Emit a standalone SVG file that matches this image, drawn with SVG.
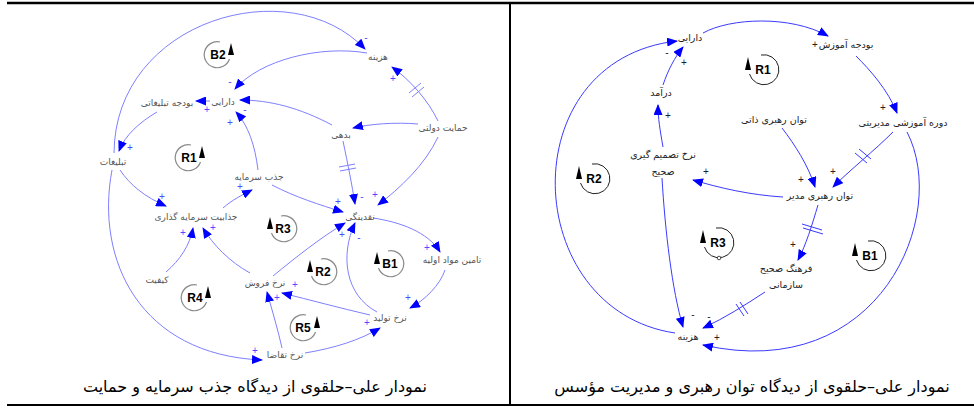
<svg xmlns="http://www.w3.org/2000/svg" width="974" height="408" viewBox="0 0 974 408">
<style>
.frame{stroke:#000;fill:none}
.ll{fill:none;stroke:#7f7fff;stroke-width:1}
.rl{fill:none;stroke:#3a3aff;stroke-width:1}
.hl{fill:none;stroke:#7f7fff;stroke-width:1}
.hr{fill:none;stroke:#3a3aff;stroke-width:1}
.lt{font-family:"DejaVu Sans",sans-serif;font-size:9px;fill:#555;text-anchor:middle}
.rt{font-family:"DejaVu Sans",sans-serif;font-size:9.5px;fill:#222;text-anchor:middle}
.pl{font-family:"Liberation Sans",sans-serif;font-size:10px;fill:#4d4dff;text-anchor:middle}
.pr{font-family:"Liberation Sans",sans-serif;font-size:10px;fill:#222;text-anchor:middle}
.lp{font-family:"Liberation Sans",sans-serif;font-size:12px;font-weight:bold;fill:#000;text-anchor:middle}
.cap{font-family:"DejaVu Sans",sans-serif;font-size:16px;fill:#000;text-anchor:middle}
</style>
<defs>
<marker id="ah" markerUnits="userSpaceOnUse" markerWidth="11" markerHeight="9" viewBox="0 0 11 9" refX="10" refY="4.5" orient="auto">
<path d="M0,0 L11,4.5 L0,9 Z" fill="#0000ff"/>
</marker>
<g id="loopA">
<path d="M3,-13 A13,13 0 1 0 12.5,4" fill="none" stroke="#8a8a8a" stroke-width="1.2"/>
<path d="M14,-12 L11,0 L17,0 Z" fill="#000"/>
</g>
<g id="loopB">
<path d="M3,-15 A15,15 0 1 0 14.5,4" fill="none" stroke="#222" stroke-width="1"/>
<path d="M16,-13 L13,0 L19,0 Z" fill="#000"/>
</g>
</defs>

<g id="frame">
<line class="frame" x1="7" y1="3" x2="974" y2="3" stroke-width="2.5"/>
<line class="frame" x1="510" y1="3" x2="510" y2="405" stroke-width="2"/>
<line class="frame" x1="7" y1="405" x2="974" y2="405" stroke-width="2"/>
</g>

<!-- LEFT DIAGRAM -->
<g id="left-connectors">
<path class="ll" d="M114,153 C115,20 290,-30 365,49" marker-end="url(#ah)"/>
<path class="ll" d="M367,53 C320,45 260,60 235,89" marker-end="url(#ah)"/>
<path class="ll" d="M332,125 C300,108 270,100 240,100" marker-end="url(#ah)"/>
<path class="ll" d="M258,170 C255,145 248,125 236,112" marker-end="url(#ah)"/>
<path class="ll" d="M210,101 L196,101" marker-end="url(#ah)"/>
<path class="ll" d="M157,112 C140,122 125,135 119,151" marker-end="url(#ah)"/>
<path class="ll" d="M120,170 C130,185 145,197 166,206" marker-end="url(#ah)"/>
<path class="ll" d="M112,170 C95,260 140,355 262,360" marker-end="url(#ah)"/>
<path class="ll" d="M223,208 C232,200 242,195 252,190" marker-end="url(#ah)"/>
<path class="ll" d="M166,272 C180,260 190,245 193,228" marker-end="url(#ah)"/>
<path class="ll" d="M250,273 C230,262 213,245 203,228" marker-end="url(#ah)"/>
<path class="ll" d="M272,185 C295,197 320,205 343,212" marker-end="url(#ah)"/>
<path class="ll" d="M343,141 C348,165 352,185 355,204" marker-end="url(#ah)"/>
<path class="ll" d="M438,137 C425,165 400,188 378,205" marker-end="url(#ah)"/>
<path class="ll" d="M418,124 C395,122 370,124 353,128" marker-end="url(#ah)"/>
<path class="ll" d="M438,121 C428,100 410,80 392,67" marker-end="url(#ah)"/>
<path class="ll" d="M373,218 C400,222 428,232 440,252" marker-end="url(#ah)"/>
<path class="ll" d="M445,270 C440,285 425,300 410,308" marker-end="url(#ah)"/>
<path class="ll" d="M377,312 C345,295 340,255 355,223" marker-end="url(#ah)"/>
<path class="ll" d="M273,276 C295,258 320,238 345,223" marker-end="url(#ah)"/>
<path class="ll" d="M370,315 C340,308 310,300 282,293" marker-end="url(#ah)"/>
<path class="ll" d="M282,348 C278,330 272,310 267,292" marker-end="url(#ah)"/>
<path class="ll" d="M305,353 C335,348 360,340 380,328" marker-end="url(#ah)"/>
<!-- delay hatches -->
<path class="hl" d="M339,167 L355,164 M340,171 L356,168"/>
<path class="hl" d="M409,93 L421,83 M412,97 L424,87"/>
</g>

<g id="left-polarity">
<text class="pl" x="366" y="41">-</text>
<text class="pl" x="393" y="82">+</text>
<text class="pl" x="230" y="85">-</text>
<text class="pl" x="245" y="113">-</text>
<text class="pl" x="230" y="126">+</text>
<text class="pl" x="207" y="113">+</text>
<text class="pl" x="130" y="151">+</text>
<text class="pl" x="162" y="200">+</text>
<text class="pl" x="255" y="354">+</text>
<text class="pl" x="240" y="190">+</text>
<text class="pl" x="183" y="236">+</text>
<text class="pl" x="213" y="231">+</text>
<text class="pl" x="338" y="205">+</text>
<text class="pl" x="362" y="200">-</text>
<text class="pl" x="375" y="198">+</text>
<text class="pl" x="427" y="251">+</text>
<text class="pl" x="408" y="301">+</text>
<text class="pl" x="359" y="241">-</text>
<text class="pl" x="342" y="238">+</text>
<text class="pl" x="295" y="288">+</text>
<text class="pl" x="277" y="301">+</text>
<text class="pl" x="367" y="326">+</text>
</g>

<g id="n-hazine-l"><text class="lt" x="378" y="60">هزینه</text></g>
<g id="n-hemayat"><text class="lt" x="443" y="131">حمایت دولتی</text></g>
<g id="n-bedehi"><text class="lt" x="341" y="138">بدهی</text></g>
<g id="n-darayi-l"><text class="lt" x="223" y="105">دارایی</text></g>
<g id="n-budjeh-tab"><text class="lt" x="167" y="106">بودجه تبلیغاتی</text></g>
<g id="n-tablighat"><text class="lt" x="113" y="165">تبلیغات</text></g>
<g id="n-jazb"><text class="lt" x="259" y="180">جذب سرمایه</text></g>
<g id="n-jazabiyat"><text class="lt" x="196" y="220">جذابیت سرمایه گذاری</text></g>
<g id="n-naghdinegi"><text class="lt" x="360" y="220">نقدینگی</text></g>
<g id="n-tamin"><text class="lt" x="452" y="263">تامین مواد اولیه</text></g>
<g id="n-keyfiyat"><text class="lt" x="157" y="283">کیفیت</text></g>
<g id="n-forush"><text class="lt" x="265" y="286">نرخ فروش</text></g>
<g id="n-tolid"><text class="lt" x="390" y="321">نرخ تولید</text></g>
<g id="n-taghaza"><text class="lt" x="285" y="358">نرخ تقاضا</text></g>

<g id="left-loops">
<g id="loop-B2"><use href="#loopA" x="217" y="55"/><text class="lp" x="218" y="59">B2</text></g>
<g id="loop-R1"><use href="#loopA" x="188" y="158"/><text class="lp" x="189" y="162">R1</text></g>
<g id="loop-R4"><use href="#loopA" x="194" y="298"/><text class="lp" x="195" y="302">R4</text></g>
<g id="loop-R5"><use href="#loopA" x="303" y="328"/><text class="lp" x="303" y="332">R5</text></g>
<g id="loop-R3"><use href="#loopA" transform="translate(284,229) scale(-1,1)"/><text class="lp" x="283" y="233">R3</text></g>
<g id="loop-R2"><use href="#loopA" transform="translate(324,272) scale(-1,1)"/><text class="lp" x="323" y="276">R2</text></g>
<g id="loop-B1l"><use href="#loopA" transform="translate(391,264) scale(-1,1)"/><text class="lp" x="390" y="268">B1</text></g>
</g>

<!-- RIGHT DIAGRAM -->
<g id="right-connectors">
<path class="rl" d="M907,132 C950,215 880,385 703,345" marker-end="url(#ah)"/>
<path class="rl" d="M675,333 C520,310 510,60 677,41" marker-end="url(#ah)"/>
<path class="rl" d="M703,33 C730,18 790,15 828,36" marker-end="url(#ah)"/>
<path class="rl" d="M856,56 C870,70 888,90 897,113" marker-end="url(#ah)"/>
<path class="rl" d="M893,132 C875,150 850,170 833,187" marker-end="url(#ah)"/>
<path class="rl" d="M782,128 C795,145 808,165 815,187" marker-end="url(#ah)"/>
<path class="rl" d="M783,197 C750,195 720,188 693,180" marker-end="url(#ah)"/>
<path class="rl" d="M663,147 C660,130 658,118 658,105" marker-end="url(#ah)"/>
<path class="rl" d="M663,85 C668,70 675,57 683,47" marker-end="url(#ah)"/>
<path class="rl" d="M662,178 C665,230 672,290 683,327" marker-end="url(#ah)"/>
<path class="rl" d="M818,205 C812,225 806,245 798,260" marker-end="url(#ah)"/>
<path class="rl" d="M765,292 C745,305 725,318 703,328" marker-end="url(#ah)"/>
<path class="hr" d="M855,153 L867,163 M859,149 L871,159"/>
<path class="hr" d="M802,224 L822,230 M803,228 L823,234"/>
<path class="hr" d="M736,304 L744,316 M740,302 L748,314"/>
</g>

<g id="right-polarity">
<text class="pr" x="667" y="56">-</text>
<text class="pr" x="684" y="66">+</text>
<text class="pr" x="668" y="119">+</text>
<text class="pr" x="815" y="48">+</text>
<text class="pr" x="883" y="111">+</text>
<text class="pr" x="833" y="175">+</text>
<text class="pr" x="801" y="183">+</text>
<text class="pr" x="706" y="175">+</text>
<text class="pr" x="793" y="248">+</text>
<text class="pr" x="693" y="318">-</text>
<text class="pr" x="709" y="320">-</text>
<text class="pr" x="717" y="341">+</text>
</g>

<g id="n-darayi-r"><text class="rt" x="690" y="41">دارایی</text></g>
<g id="n-budjeh-amuzesh"><text class="rt" x="846" y="48">بودجه آموزش</text></g>
<g id="n-daramad"><text class="rt" x="661" y="96">درآمد</text></g>
<g id="n-tasmim"><text class="rt" x="663" y="158">نرخ تصمیم گیری</text><text class="rt" x="663" y="175">صحیح</text></g>
<g id="n-tavan-zati"><text class="rt" x="774" y="123">توان رهبری ذاتی</text></g>
<g id="n-dore"><text class="rt" x="903" y="126">دوره آموزشی مدیریتی</text></g>
<g id="n-tavan-modir"><text class="rt" x="820" y="199">توان رهبری مدیر</text></g>
<g id="n-farhang"><text class="rt" x="786" y="272">فرهنگ صحیح</text><text class="rt" x="786" y="288">سازمانی</text></g>
<g id="n-hazine-r"><text class="rt" x="688" y="340">هزینه</text></g>

<g id="right-loops">
<g id="loop-R1r"><use href="#loopB" transform="translate(764,70) scale(-1,1)"/><text class="lp" x="763" y="74">R1</text></g>
<g id="loop-R2r"><use href="#loopB" transform="translate(595,179) scale(-1,1)"/><text class="lp" x="594" y="183">R2</text></g>
<g id="loop-R3r"><use href="#loopB" transform="translate(719,243) scale(-1,1)"/><text class="lp" x="718" y="247">R3</text><circle cx="719" cy="258" r="1.8" fill="#fff" stroke="#222" stroke-width="0.8"/></g>
<g id="loop-B1r"><use href="#loopB" transform="translate(871,256) scale(-1,1)"/><text class="lp" x="870" y="260">B1</text></g>
</g>

<g id="captions">
<text class="cap" x="255" y="392">نمودار علی–حلقوی از دیدگاه جذب سرمایه و حمایت</text>
<text class="cap" x="752" y="392">نمودار علی–حلقوی از دیدگاه توان رهبری و مدیریت مؤسس</text>
</g>
</svg>
